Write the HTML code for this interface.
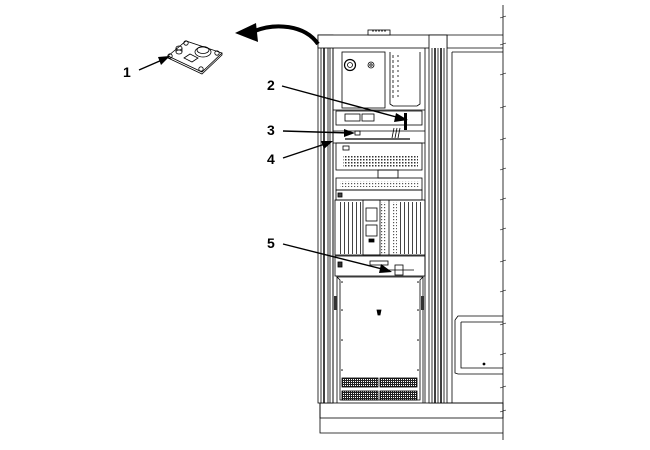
<!DOCTYPE html>
<html><head><style>html,body{margin:0;padding:0;background:#fff}svg{display:block}</style></head><body>
<svg width="650" height="450" viewBox="0 0 650 450" xmlns="http://www.w3.org/2000/svg" font-family="Liberation Sans, Arial, sans-serif">
<defs>
<pattern id="dots" width="3" height="3" patternUnits="userSpaceOnUse"><rect width="1.5" height="1.5" fill="#333"/></pattern>
<pattern id="vent" width="2" height="2" patternUnits="userSpaceOnUse"><rect width="2" height="1" fill="#222"/><rect width="1" height="2" fill="#222"/></pattern>
<pattern id="fins" width="4" height="10" patternUnits="userSpaceOnUse"><rect width="1" height="10" fill="#444"/></pattern>
<pattern id="vdots" width="3" height="3" patternUnits="userSpaceOnUse"><rect width="1.2" height="1.2" fill="#555"/></pattern>
</defs>
<g fill="none" stroke="#000" stroke-width="0.8">
<polyline points="320,403 320,433 503,433"/>
<rect x="320" y="403" width="183" height="15"/>
<rect x="318" y="35" width="15" height="368" fill="#fff"/>
<line x1="321" y1="48" x2="321" y2="403"/><line x1="324" y1="48" x2="324" y2="403" stroke-width="1.5"/><line x1="328" y1="48" x2="328" y2="403"/><line x1="330" y1="48" x2="330" y2="403"/>
<rect x="318" y="35" width="129" height="13" fill="#fff"/>
<rect x="368" y="30" width="22" height="5" fill="#fff"/>
<line x1="372" y1="31" x2="386" y2="31" stroke-dasharray="2,1"/>
<rect x="429" y="35" width="18" height="368" fill="#fff"/>
<line x1="432" y1="48" x2="432" y2="403"/><line x1="435" y1="48" x2="435" y2="403" stroke-width="1.5"/><line x1="438" y1="48" x2="438" y2="403"/><line x1="441" y1="48" x2="441" y2="403" stroke-width="1.5"/><line x1="444" y1="48" x2="444" y2="403"/>
<line x1="447" y1="35" x2="503" y2="35"/>
<line x1="447" y1="48" x2="503" y2="48"/>
<line x1="452" y1="52" x2="503" y2="52"/>
<line x1="452" y1="52" x2="452" y2="403"/>
<line x1="447" y1="403" x2="503" y2="403"/>
<line x1="503" y1="5" x2="503" y2="440"/>
<g stroke-width="0.6">
<path d="M500,18 L506,16 M500,45 L506,43 M500,75 L506,73 M500,108 L506,106 M500,140 L506,138 M500,170 L506,168 M500,200 L506,198 M500,230 L506,228 M500,262 L506,260 M500,292 L506,290 M500,325 L506,323 M500,355 L506,353 M500,388 L506,386 M500,412 L506,410"/>
</g>
<path d="M455,320 L458,316 L503,316 M455,320 L455,373 L458,374 L503,374 M461,322 L503,322 M461,322 L461,368 L503,368"/>
<circle cx="484" cy="364" r="1" fill="#000"/>
<line x1="333" y1="48" x2="333" y2="403"/>
<line x1="425" y1="48" x2="425" y2="403"/>
<rect x="342" y="52" width="43" height="56"/>
<circle cx="350" cy="65" r="5.5" stroke-width="1.2"/><circle cx="350" cy="65" r="2.5"/>
<circle cx="371" cy="65" r="3"/><circle cx="371" cy="65" r="1.2"/>
<path d="M390,52 L390,104 L393,106 L417,106 L420,104 L420,52"/>
<line x1="393" y1="55" x2="393" y2="100" stroke-dasharray="3,2"/>
<line x1="398" y1="55" x2="398" y2="100" stroke-dasharray="2,3"/>
<line x1="333" y1="110" x2="425" y2="110"/>
<rect x="336" y="111" width="86" height="14"/>
<rect x="345" y="114" width="15" height="7"/>
<rect x="362" y="114" width="12" height="7"/>
<rect x="404" y="113" width="3" height="17" fill="#000" stroke="none"/>
<line x1="333" y1="131" x2="425" y2="131"/>
<rect x="355" y="131" width="5" height="4"/>
<line x1="345" y1="139" x2="410" y2="139" stroke-width="1.2"/>
<path d="M394,128 L392,138 M397,128 L395,138 M400,128 L398,138"/>
<line x1="333" y1="143" x2="425" y2="143"/>
<rect x="336" y="143" width="86" height="27"/>
<rect x="343" y="146" width="6" height="4"/>
<rect x="343" y="155" width="75" height="12" fill="url(#dots)" stroke="none"/>
<rect x="378" y="170" width="20" height="8"/>
<rect x="336" y="178" width="86" height="12"/>
<rect x="340" y="181" width="80" height="6" fill="url(#vdots)" stroke="none"/>
<rect x="336" y="190" width="86" height="10"/>
<rect x="338" y="193" width="4" height="4" fill="#444"/>
<rect x="335" y="200" width="90" height="55"/>
<rect x="337" y="202" width="26" height="52" fill="url(#fins)" stroke="none"/>
<rect x="398" y="202" width="26" height="52" fill="url(#fins)" stroke="none"/>
<rect x="363" y="200" width="17" height="55"/>
<rect x="366" y="208" width="11" height="13"/><rect x="366" y="225" width="11" height="11"/>
<rect x="369" y="239" width="5" height="3" fill="#000"/>
<rect x="381" y="202" width="6" height="52" fill="url(#vdots)" stroke="none"/>
<rect x="392" y="202" width="5" height="52" fill="url(#vdots)" stroke="none"/>
<line x1="389" y1="200" x2="389" y2="255"/>
<rect x="335" y="256" width="90" height="20"/>
<rect x="338" y="262" width="4" height="5" fill="#333"/>
<rect x="370" y="261" width="18" height="4"/>
<rect x="395" y="265" width="8" height="10"/>
<line x1="388" y1="270" x2="414" y2="270"/>
<path d="M337,277 L423,277 L420,280 L420,400 L340,400 L340,280 Z"/>
<line x1="337" y1="277" x2="337" y2="403"/><line x1="423" y1="277" x2="423" y2="403"/>
<rect x="334" y="296" width="3" height="14" fill="#333" stroke="none"/>
<rect x="421" y="296" width="3" height="14" fill="#333" stroke="none"/>
<g fill="#000" stroke="none"><circle cx="342" cy="282" r="0.8"/><circle cx="418" cy="282" r="0.8"/><circle cx="342" cy="310" r="0.8"/><circle cx="418" cy="310" r="0.8"/><circle cx="342" cy="340" r="0.8"/><circle cx="418" cy="340" r="0.8"/><circle cx="342" cy="370" r="0.8"/><circle cx="418" cy="370" r="0.8"/></g>
<rect x="342" y="378" width="36" height="9" fill="url(#vent)"/>
<rect x="380" y="378" width="37" height="9" fill="url(#vent)"/>
<rect x="342" y="391" width="36" height="9" fill="url(#vent)"/>
<rect x="380" y="391" width="37" height="9" fill="url(#vent)"/>
<path d="M377,310 L381,310 L380,315 L378,315 Z" fill="#000"/>
</g>
<g fill="none" stroke="#000" stroke-width="0.8">
<path d="M168,56 L186,41 L222,53 L202,72 Z" fill="#fff"/>
<path d="M168,56 L168,58 L202,74 L222,55 L222,53"/>
<circle cx="186" cy="43" r="2.2"/><circle cx="217" cy="53" r="2.2"/><circle cx="201" cy="69" r="2.2"/><circle cx="170" cy="56" r="2.2"/>
<ellipse cx="203" cy="52" rx="8" ry="5"/><ellipse cx="203" cy="50" rx="6" ry="3.5"/>
<ellipse cx="179" cy="52" rx="3" ry="2"/><line x1="176" y1="52" x2="176" y2="48"/><line x1="182" y1="52" x2="182" y2="48"/><ellipse cx="179" cy="48" rx="3" ry="2"/>
<path d="M184,58 L190,54 L198,58 L192,62 Z"/>
</g>
<path d="M318,44 C305,25 275,22 252,32" fill="none" stroke="#000" stroke-width="4"/>
<polygon points="235,33 256,23 258,42" fill="#000"/>
<g stroke="#000" stroke-width="1.4">
<line x1="139" y1="70" x2="162" y2="60"/>
<line x1="282" y1="86" x2="400" y2="118"/>
<line x1="283" y1="131" x2="350" y2="133"/>
<line x1="283" y1="158" x2="325" y2="144"/>
<line x1="283" y1="244" x2="382" y2="269"/>
</g>
<g fill="#000">
<polygon points="170,56 158,57 161,65"/>
<polygon points="408,120 396,113 394,122"/>
<polygon points="355,133 344,129 344,137"/>
<polygon points="333,141 321,141 324,149"/>
<polygon points="392,272 381,264 379,273"/>
</g>
<g font-weight="bold" font-size="14" fill="#000">
<text x="123" y="77">1</text>
<text x="267" y="90">2</text>
<text x="267" y="135">3</text>
<text x="267" y="164">4</text>
<text x="267" y="248">5</text>
</g>
</svg>
</body></html>
